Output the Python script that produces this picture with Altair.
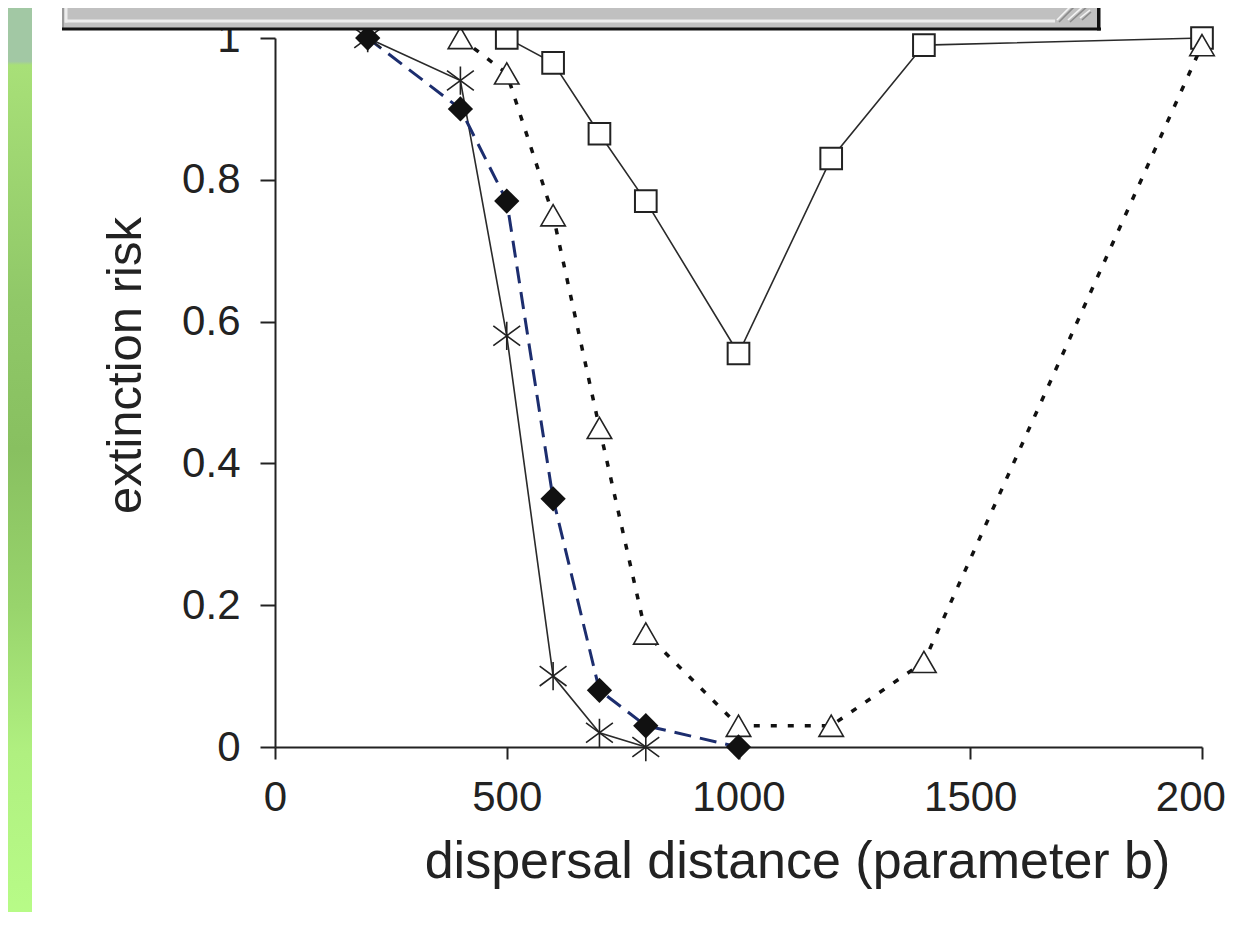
import altair as alt
import pandas as pd

# ---------------- data ----------------
x_ticks = [0, 500, 1000, 1500, 2000]
y_ticks = [0, 0.2, 0.4, 0.6, 0.8, 1.0]

star_b = [200, 400, 500, 600, 700, 800]
star_risk = [1.0, 0.94, 0.58, 0.10, 0.02, 0.0]

diamond_b = [200, 400, 500, 600, 700, 800, 1000]
diamond_risk = [1.0, 0.90, 0.77, 0.35, 0.08, 0.03, 0.0]

triangle_b = [400, 500, 600, 700, 800, 1000, 1200, 1400, 2000]
triangle_risk = [1.0, 0.95, 0.75, 0.45, 0.16, 0.03, 0.03, 0.12, 0.99]

square_b = [500, 600, 700, 800, 1000, 1200, 1400, 2000]
square_risk = [1.0, 0.965, 0.865, 0.77, 0.555, 0.83, 0.99, 1.0]

x_title = "dispersal distance (parameter b)"
y_title = "extinction risk"

FONT = "Liberation Sans"
INK = "#222222"
NAVY = "#1c2d6e"

W, H = 927, 709

def frame(xs, ys):
    return pd.DataFrame({"b": xs, "risk": ys})

x_enc = alt.X(
    "b:Q",
    scale=alt.Scale(domain=[0, 2000], nice=False, zero=False),
    axis=alt.Axis(
        values=x_ticks, format="d", title=x_title, labelFlush=False,
        tickSize=12, labelPadding=51, labelBaseline="alphabetic",
        titleX=522, titleY=130, titleAlign="center", titleBaseline="alphabetic",
        titleFontSize=52,
    ),
)
y_enc = alt.Y(
    "risk:Q",
    scale=alt.Scale(domain=[0, 1], nice=False, zero=False),
    axis=alt.Axis(
        values=y_ticks, format="~g", title=y_title, labelFlush=False,
        tickSize=15, labelPadding=20,
        titleX=-135, titleY=327, titleAlign="center", titleBaseline="alphabetic",
        titleAngle=270, titleFontSize=49,
    ),
)

star_df = frame(star_b, star_risk)
dia_df = frame(diamond_b, diamond_risk)
tri_df = frame(triangle_b, triangle_risk)
sq_df = frame(square_b, square_risk)

STAR = "M0,-1L0,1M-0.95,-0.7L0.95,0.7M-0.95,0.7L0.95,-0.7"

sq_line = alt.Chart(sq_df).mark_line(color="#2a2a2a", strokeWidth=1.6).encode(x=x_enc, y=y_enc)
tri_line = alt.Chart(tri_df).mark_line(color="#111111", strokeWidth=3.5, strokeDash=[6, 11]).encode(x=x_enc, y=y_enc)
star_line = alt.Chart(star_df).mark_line(color="#2a2a2a", strokeWidth=1.6).encode(x=x_enc, y=y_enc)
dia_line = alt.Chart(dia_df).mark_line(color=NAVY, strokeWidth=3, strokeDash=[17, 9]).encode(x=x_enc, y=y_enc)

sq_pts = alt.Chart(sq_df).mark_point(
    shape="square", size=470, filled=True, fill="white", stroke=INK, strokeWidth=2, opacity=1
).encode(x=x_enc, y=y_enc)
tri_pts = alt.Chart(tri_df).mark_point(
    shape="triangle-up", size=600, filled=True, fill="white", stroke=INK, strokeWidth=1.6, opacity=1
).encode(x=x_enc, y=y_enc)
star_pts = alt.Chart(star_df).mark_point(
    shape=STAR, size=800, filled=False, stroke=INK, strokeWidth=1.6, opacity=1
).encode(x=x_enc, y=y_enc)
dia_pts = alt.Chart(dia_df).mark_point(
    shape="diamond", size=640, filled=True, color="#111111", opacity=1
).encode(x=x_enc, y=y_enc)

# ---------------- decorations from the screenshot frame ----------------
one = pd.DataFrame({"d": [0]})

def box(x0, x1, y0, y1, color):
    return alt.Chart(one).mark_rect(color=color).encode(
        x=alt.value(x0), x2=alt.value(x1), y=alt.value(y0), y2=alt.value(y1)
    )

def seg(x0, y0, x1, y1, color, w):
    return alt.Chart(one).mark_rule(color=color, strokeWidth=w).encode(
        x=alt.value(x0), x2=alt.value(x1), y=alt.value(y0), y2=alt.value(y1)
    )

green = alt.Chart(one).mark_rect(
    color=alt.Gradient(
        gradient="linear", x1=0, y1=0, x2=0, y2=1,
        stops=[
            alt.GradientStop(offset=0.0, color="#a2c8a4"),
            alt.GradientStop(offset=0.058, color="#a2c8a4"),
            alt.GradientStop(offset=0.062, color="#a8e078"),
            alt.GradientStop(offset=0.32, color="#90c868"),
            alt.GradientStop(offset=0.48, color="#88c060"),
            alt.GradientStop(offset=0.65, color="#98d46c"),
            alt.GradientStop(offset=0.81, color="#b0f080"),
            alt.GradientStop(offset=1.0, color="#b8fc88"),
        ],
    )
).encode(x=alt.value(-267), x2=alt.value(-243), y=alt.value(-30), y2=alt.value(890))

bar = [
    box(-213, 825, -38, -10, "#c0c0c0"),
    box(-213, -211, -38, -10, "#9a9a9a"),
    box(-210, 780, -18.5, -15.5, "#ececec"),
    box(-210.5, -207.5, -38, -15.5, "#ececec"),
    box(-213, 826, -10.5, -7.5, "#111111"),
    box(822, 825.5, -38, -7.5, "#111111"),
    seg(782, -18, 802, -38, "#f4f4f4", 1.6),
    seg(784, -16, 804, -36, "#8a8a8a", 1.6),
    seg(793, -18, 813, -36, "#f4f4f4", 1.6),
    seg(795, -16, 815, -34, "#8a8a8a", 1.6),
    seg(805, -20, 815, -28, "#f4f4f4", 1.6),
    seg(807, -18, 816, -26, "#8a8a8a", 1.6),
]

chart = alt.layer(
    green,
    sq_line, tri_line, star_line, dia_line,
    sq_pts, tri_pts, star_pts, dia_pts,
    *bar,
).properties(
    width=W, height=H,
    autosize=alt.AutoSizeParams(type="none"),
    padding={"left": 267, "top": 30, "right": 23, "bottom": 165},
    background="white",
).configure_view(stroke=None).configure_axis(
    grid=False,
    domainColor=INK, domainWidth=2,
    tickColor=INK, tickWidth=2,
    labelFont=FONT, labelFontSize=42, labelColor=INK,
    titleFont=FONT, titleFontWeight="normal", titleColor=INK,
)

chart.save("out.html", embed_options={"renderer": "svg", "actions": False})
